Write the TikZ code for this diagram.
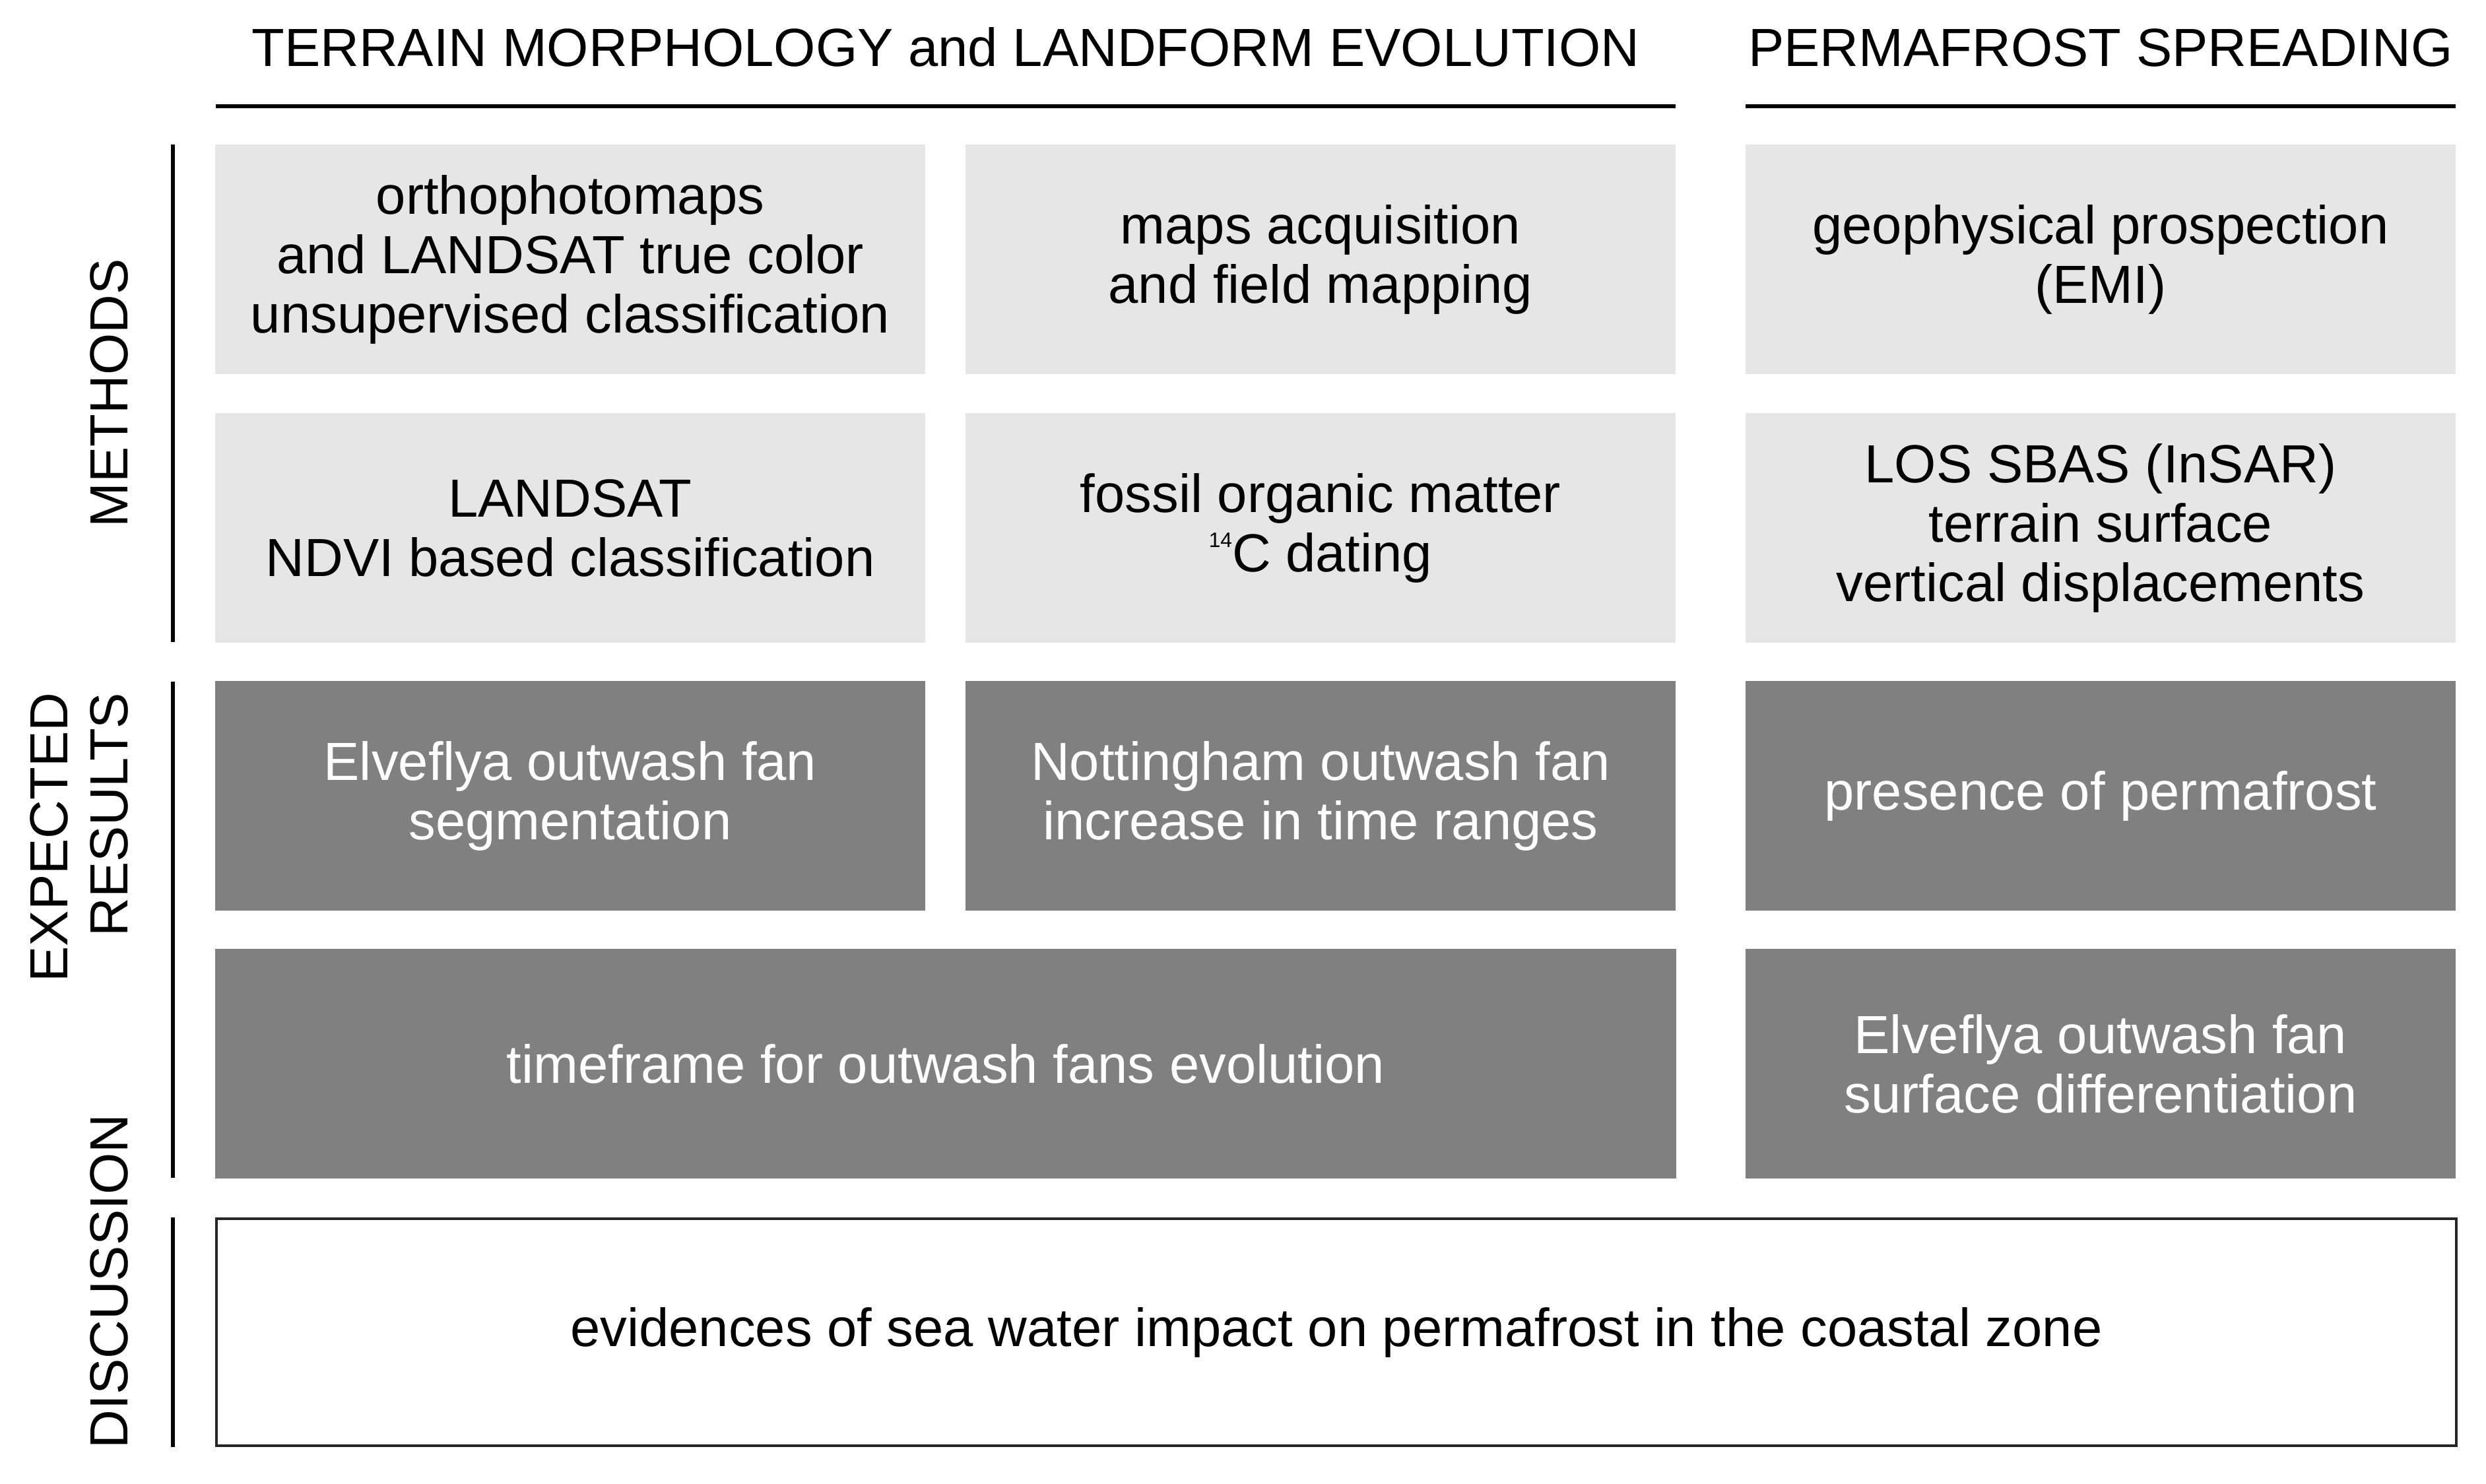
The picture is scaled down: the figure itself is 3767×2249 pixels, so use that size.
\documentclass[tikz,border=0pt]{standalone}
\usepackage{fontspec}
\setmainfont{Liberation Sans}
\definecolor{lightbox}{HTML}{E6E6E6}
\definecolor{darkbox}{HTML}{808080}
\begin{document}
\begin{tikzpicture}[x=0.01cm,y=-0.01cm,
  every node/.style={font=\fontsize{23.15}{25.6}\selectfont},
  cell/.style={rectangle, inner sep=0pt, minimum height=3.47cm, minimum width=10.75cm, align=center},
  methbox/.style={cell, fill=lightbox, text=black},
  resbox/.style={cell, fill=darkbox, text=white},
  discbox/.style={cell, draw=black!85, line width=1.14pt, fill=white, text=black},
  rule/.style={line width=1.7pt, line cap=butt, draw=black},
  sidelbl/.style={rotate=90, inner sep=0pt}
]
\useasboundingbox (0,0) rectangle (3767,2249);

% headers
\node[anchor=base] (h1) at (1433,101) {TERRAIN MORPHOLOGY and LANDFORM EVOLUTION};
\node[anchor=base] (h2) at (3183,101) {PERMAFROST SPREADING};
\coordinate (l1a) at (327,161);
\coordinate (l1b) at (2539,161);
\coordinate (l2a) at (2645,161);
\coordinate (l2b) at (3721,161);
\draw[rule] (l1a) -- (l1b);
\draw[rule] (l2a) -- (l2b);

% side lines
\coordinate (v1a) at (262,219);
\coordinate (v1b) at (262,973);
\coordinate (v2a) at (262,1033);
\coordinate (v2b) at (262,1785);
\coordinate (v3a) at (262,1845);
\coordinate (v3b) at (262,2193);
\draw[rule] (v1a) -- (v1b);
\draw[rule] (v2a) -- (v2b);
\draw[rule] (v3a) -- (v3b);

% side labels
\node[sidelbl, anchor=base] (lm) at (193,596) {METHODS};
\node[sidelbl, anchor=base east] (le1) at (102,1049) {EXPECTED};
\node[sidelbl, anchor=base east] (le2) at (193,1049) {RESULTS};
\node[sidelbl, anchor=base] (ld) at (193,1942) {DISCUSSION};

% methods
\node[methbox] (m11) at (864,393) {orthophotomaps\\and LANDSAT true color\\unsupervised classification};
\node[methbox] (m12) at (2001,393) {maps acquisition\\and field mapping};
\node[methbox] (m13) at (3183,393) {geophysical prospection\\(EMI)};
\node[methbox] (m21) at (864,800) {LANDSAT\\NDVI based classification};
\node[methbox] (m22) at (2001,800) {fossil organic matter\\\raisebox{10.3pt}{\fontsize{9}{10}\selectfont 14}C dating};
\node[methbox] (m23) at (3183,800) {LOS SBAS (InSAR)\\terrain surface\\vertical displacements};

% expected results
\node[resbox] (r11) at (864,1206) {Elveflya outwash fan\\segmentation};
\node[resbox] (r12) at (2001,1206) {Nottingham outwash fan\\increase in time ranges};
\node[resbox] (r13) at (3183,1206) {presence of permafrost};
\node[resbox, minimum width=22.12cm] (r21) at (1433,1612) {timeframe for outwash fans evolution};
\node[resbox] (r23) at (3183,1612) {Elveflya outwash fan\\surface differentiation};

% discussion
\node[discbox, minimum width=33.92cm, minimum height=3.44cm] (d) at (2025,2019) {evidences of sea water impact on permafrost in the coastal zone};
\end{tikzpicture}
\end{document}
